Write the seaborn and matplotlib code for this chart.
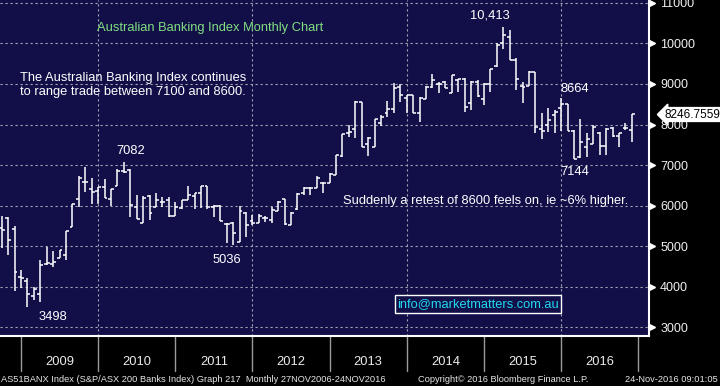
import numpy as np
import pandas as pd
import seaborn as sns
import matplotlib.pyplot as plt
import matplotlib.transforms as mtransforms

# monthly OHLC of the S&P/ASX 200 Banks index (Sep 2008 - Nov 2016)
months = pd.period_range('2008-09', '2016-11', freq='M')
open_px = [5437, 5683, 5420, 4242, 4144, 3765, 3815, 4555, 4547, 4696, 4778, 5477, 6153, 6572, 6400, 6358, 6465,
           6153, 6481, 6852, 6876, 5955, 5560, 6235, 5955, 6095, 6136, 5749, 5930, 6136, 6235, 6309, 6481, 5955,
           6000, 5550, 5560, 5110, 5810, 5625, 5560, 5690, 5642, 5873, 6150, 5530, 5905, 6300, 6424, 6430, 6560,
           6548, 6760, 7230, 7780, 7878, 8547, 7511, 7452, 8029, 8276, 8374, 8918, 8646, 8728, 8276, 8622, 8934,
           9000, 9057, 8770, 9099, 9115, 8522, 9057, 8622, 9000, 9444, 10020, 10153, 9592, 8950, 8950, 9304, 7900,
           7987, 8234, 8399, 8506, 7840, 7200, 7450, 7530, 7800, 7470, 7906, 7716, 7906, 7864]
high_px = [5741, 5708, 5494, 4407, 4202, 3996, 4654, 4983, 4884, 4901, 5378, 6037, 6729, 6959, 6671, 6465, 6646,
           6400, 6893, 7082, 6893, 6259, 6235, 6259, 6309, 6202, 6202, 6095, 6136, 6481, 6309, 6481, 6481, 6012,
           6010, 5570, 5585, 5990, 5840, 5765, 5782, 5740, 5971, 6119, 6153, 5830, 6300, 6465, 6465, 6730, 6590,
           6795, 7247, 7757, 7987, 8580, 8563, 7683, 8135, 8234, 8580, 9017, 8999, 8728, 8728, 8687, 8950, 9247,
           9057, 9082, 9222, 9115, 9140, 9074, 9099, 9017, 9362, 10020, 10413, 10333, 9634, 9057, 9331, 9304, 8276,
           8399, 8358, 8664, 8506, 7864, 8128, 7798, 7987, 7822, 7906, 7946, 7798, 8045, 8247]
low_px = [4943, 4778, 3896, 3955, 3498, 3667, 3625, 4531, 4489, 4696, 4654, 5477, 5955, 6341, 6037, 6037, 6178,
          5988, 6481, 6810, 5724, 5658, 5560, 5634, 5955, 5971, 5708, 5749, 5905, 6136, 5905, 5930, 5905, 5724,
          5610, 5080, 5036, 5100, 5230, 5519, 5560, 5585, 5560, 5873, 5519, 5519, 5880, 6259, 6259, 6424, 6320,
          6548, 6753, 7206, 7700, 7674, 7452, 7222, 7452, 7963, 8193, 8292, 8563, 8276, 8276, 8070, 8622, 8893,
          8770, 8893, 8770, 8810, 8316, 8358, 8671, 8481, 8810, 9427, 9856, 9592, 8852, 8522, 8950, 7798, 7634,
          7822, 7798, 7847, 7840, 7144, 7165, 7206, 7527, 7247, 7247, 7699, 7452, 7864, 7576]
close_px = [5395, 5148, 4366, 4218, 3815, 3930, 4531, 4572, 4597, 4901, 5378, 6037, 6671, 6572, 6326, 6465, 6178,
            6400, 6860, 6835, 6005, 5658, 6178, 5807, 6136, 6095, 5749, 5955, 6136, 6259, 6309, 6481, 5955, 5988,
            5620, 5540, 5310, 5870, 5520, 5560, 5748, 5690, 5889, 6095, 5543, 5820, 6290, 6424, 6440, 6690, 6560,
            6780, 7247, 7757, 7815, 8563, 7452, 7658, 8135, 8193, 8374, 8893, 8728, 8728, 8276, 8646, 8934, 9099,
            9000, 8893, 9222, 9115, 8424, 9057, 8703, 9000, 9362, 9963, 10210, 9592, 9115, 8918, 9304, 7946, 7850,
            8111, 8316, 8506, 7840, 7150, 7580, 7650, 7930, 7480, 7880, 7716, 7782, 7921, 8247]
last_price = 8246.7559
years = [2009, 2010, 2011, 2012, 2013, 2014, 2015, 2016]
y_ticks = [3000, 4000, 5000, 6000, 7000, 8000, 9000, 10000, 11000]

callouts = [('10,413', 0.755, 0.955), ('7082', 0.202, 0.551), ('3498', 0.082, 0.057),
            ('5036', 0.350, 0.226), ('8664', 0.886, 0.735), ('7144', 0.886, 0.488)]

df = pd.DataFrame({'month': months, 'open': open_px, 'high': high_px, 'low': low_px, 'close': close_px})
df['x'] = np.arange(len(df))

sns.set_theme(style='dark', rc={'axes.facecolor': '#110e48', 'figure.facecolor': 'black'})
plt.rcParams['font.family'] = ['Liberation Sans', 'DejaVu Sans']

fig = plt.figure(figsize=(7.2, 3.86), dpi=100, facecolor='black')
ax = fig.add_axes([0, 50 / 386, 649 / 720, 336 / 386])
ax.set_facecolor('#110e48')
ax.set_xlim(-0.26, 100.67)
ax.set_ylim(2778, 11074)

# dotted grid
dots = (0, (2, 2.5))
for t in y_ticks:
    ax.axhline(t, color='#a4a4b4', lw=0.8, ls=dots, zorder=1)

# year boundaries: bar index of January minus one
bounds = [(y - 2008) * 12 - 8 - 1 for y in years + [2017]]
for y, b in zip(years + [2017], bounds):
    if y % 2 == 0:
        ax.axvline(b, color='#a4a4b4', lw=0.8, ls=dots, zorder=1)

# OHLC bars
w = 0.45
ax.vlines(df['x'], df['low'], df['high'], color='white', lw=1.1, zorder=3)
ax.hlines(df['open'], df['x'] - w, df['x'], color='white', lw=1.1, zorder=3)
ax.hlines(df['close'], df['x'], df['x'] + w, color='white', lw=1.1, zorder=3)

# right axis
ax.yaxis.tick_right()
ax.set_yticks(y_ticks)
ax.set_yticklabels([str(t) for t in y_ticks])
ax.set_yticks(np.arange(3500, 11000, 1000), minor=True)
ax.tick_params(axis='y', which='major', colors='white', labelcolor='#f0f0f0', length=5, width=1,
               pad=3, labelsize=9, right=True, left=False)
ax.tick_params(axis='y', which='minor', colors='white', length=3, width=1, right=True, left=False)
tri = mtransforms.blended_transform_factory(ax.transAxes, ax.transData)
ax.plot([1.004] * len(y_ticks), y_ticks, ls='none', marker='>', ms=4, color='white',
        transform=tri, clip_on=False, zorder=5)

ax.set_xticks([])
ax.set_xlabel('')
ax.set_ylabel('')
sns.despine(ax=ax, left=True, top=True, right=False, bottom=False)
for s in ['right', 'bottom']:
    ax.spines[s].set_color('white')
    ax.spines[s].set_linewidth(1.5)
ax.grid(False)

# year separators and labels under the plot
below = mtransforms.blended_transform_factory(ax.transData, ax.transAxes)
for b in bounds:
    ax.plot([b, b], [0, -0.103], color='#9a9a9a', lw=1, transform=below, clip_on=False)
for y, b0, b1 in zip(years, bounds[:-1], bounds[1:]):
    ax.text((b0 + b1) / 2, -0.077, str(y), transform=below, ha='center', va='center',
            color='#ececec', fontsize=9.3)

# last price tag
ax.text(1.024, last_price, f'{last_price:.4f}', transform=tri, ha='left', va='center', fontsize=8.5,
        color='black', bbox=dict(boxstyle='larrow,pad=0.08', fc='white', ec='white'), clip_on=False, zorder=6)

# annotations
ax.text(0.1495, 0.917, 'Australian Banking Index Monthly Chart', transform=ax.transAxes,
        color='#80e080', fontsize=9.3, va='center', ha='left')
ax.text(0.031, 0.747, 'The Australian Banking Index continues\nto range trade between 7100 and 8600.',
        transform=ax.transAxes, color='white', fontsize=9.3, va='center', ha='left', linespacing=1.2)
ax.text(0.5285, 0.402, 'Suddenly a retest of 8600 feels on, ie ~6% higher.', transform=ax.transAxes,
        color='white', fontsize=9.3, va='center', ha='left')
for label, cx, cy in callouts:
    ax.text(cx, cy, label, transform=ax.transAxes, color='white', fontsize=9.3, ha='center', va='center')
ax.text(0.7365, 0.095, 'info@marketmatters.com.au', transform=ax.transAxes, color='#22d8f0', fontsize=9.3,
        ha='center', va='center', bbox=dict(boxstyle='square,pad=0.2', fc='#110e48', ec='white', lw=1))

# footer
fig.text(0.001, 0.018, 'AS51BANX Index (S&P/ASX 200 Banks Index) Graph 217  Monthly 27NOV2006-24NOV2016',
         color='#e6e6e6', fontsize=6.7, ha='left', va='center')
fig.text(418 / 720, 0.018, 'Copyright\u00a9 2016 Bloomberg Finance L.P.', color='#e6e6e6', fontsize=6.7,
         ha='left', va='center')
fig.text(0.997, 0.018, '24-Nov-2016 09:01:05', color='#e6e6e6', fontsize=6.7, ha='right', va='center')

fig.savefig('out.png', dpi=100, facecolor='black')
